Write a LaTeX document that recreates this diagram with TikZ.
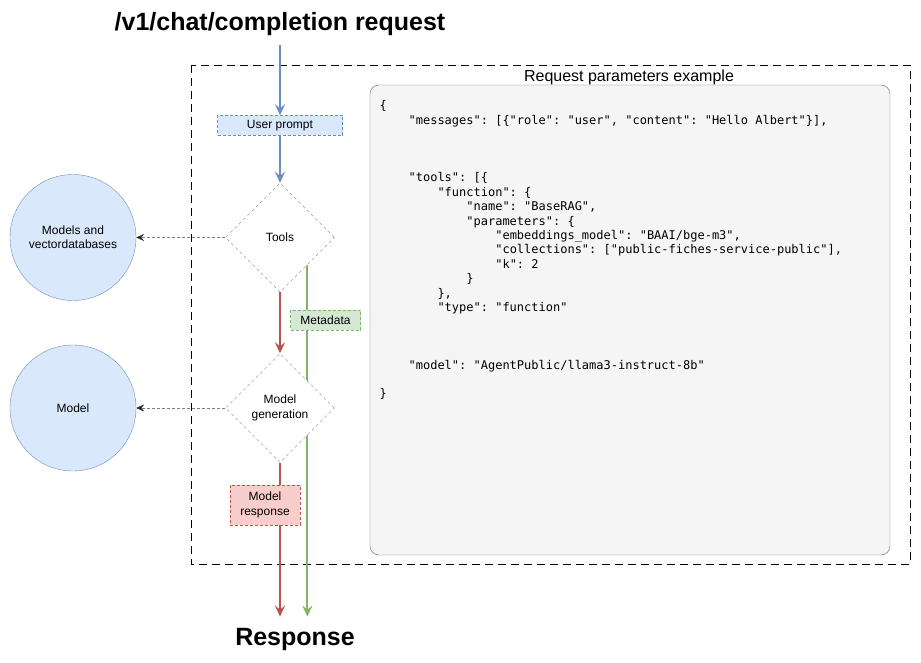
\documentclass[tikz,border=0pt]{standalone}
\usepackage{fontspec}
\setmainfont{Liberation Sans}
\newfontfamily\codefont{DejaVu Sans Mono}
\usetikzlibrary{shapes.geometric,arrows.meta,backgrounds}
\definecolor{blueline}{HTML}{6C8EBF}
\definecolor{bluefill}{HTML}{DAE8FC}
\definecolor{greenline}{HTML}{82B366}
\definecolor{greenfill}{HTML}{D5E8D4}
\definecolor{redline}{HTML}{B85450}
\definecolor{redfill}{HTML}{F8CECC}
\definecolor{codefill}{HTML}{F5F5F5}
\definecolor{codeline}{HTML}{666666}
\newcommand{\ind}[1]{\hspace*{#1\dimexpr28.9pt\relax}}
\begin{document}
\begin{tikzpicture}[x=1pt, y=-1pt, font=\fontsize{12}{14.4}\selectfont, line join=round, >={Stealth[length=11pt,width=10pt,inset=4pt]}]
\tikzset{
  tag/.style={draw, dash pattern=on 3pt off 2pt, inner sep=2pt, align=center},
  check/.style={diamond, draw=gray, fill=white, dash pattern=on 3pt off 3pt, minimum width=109pt, minimum height=109pt, inner sep=0pt, align=center},
  service/.style={circle, draw=blueline, fill=bluefill, minimum size=126pt, inner sep=0pt, align=center},
  flow/.style={->, line width=2pt, draw=#1},
  call/.style={-{Stealth[length=8pt,width=7pt,inset=3pt,color=black!85]}, draw=gray, dash pattern=on 3pt off 2pt},
  heading/.style={font=\bfseries\fontsize{25}{30}\selectfont, inner sep=0pt},
  code/.style={font=\codefont\fontsize{12}{14.4}\selectfont\frenchspacing, align=left, inner sep=0pt}
}
\useasboundingbox (0,0) rectangle (921,663);
% titles
\node[heading] (title) at (280,24) {/v1/chat/completion request};
\node[heading] (resp) at (295,639) {Response};
% flow
\node[tag, draw=blueline, fill=bluefill, minimum width=125pt, minimum height=20pt] (prompt) at (280,125.5) {User prompt};
\node[check] (tools) at (280,237.5) {Tools};
\node[tag, draw=greenline, fill=greenfill, minimum width=70pt, minimum height=20pt] (meta) at (325.5,320) {Metadata};
\node[check] (mgen) at (280,408) {Model\\generation};
\node[tag, draw=redline, fill=redfill, minimum width=70pt, minimum height=40pt] (answer) at (265,505) {Model\\response};
\node[service] (store) at (73,237.5) {Models and\\vectordatabases};
\node[service] (llm) at (73,408) {Model};
% request parameters
\node[font=\fontsize{16}{19}\selectfont, anchor=base] (caption) at (629,81.7) {Request parameters example};
\node[code, anchor=north west] (params) at (379.5,100.5) {%
\{\\
\ind1"messages": [\{"role": "user", "content": "Hello Albert"\}],\\
{}\\
{}\\
{}\\
\ind1"tools": [\{\\
\ind2"function": \{\\
\ind3"name": "BaseRAG",\\
\ind3"parameters": \{\\
\ind4"embeddings\_model": "BAAI/bge-m3",\\
\ind4"collections": ["public-fiches-service-public"],\\
\ind4"k": 2\\
\ind3\}\\
\ind2\},\\
\ind2"type": "function"\\
{}\\
{}\\
{}\\
\ind1"model": "AgentPublic/llama3-instruct-8b"\\
{}\\
\}};
\begin{scope}[on background layer]
\draw[dash pattern=on 8pt off 5pt] (191,65) rectangle (910,564);
\draw[draw=codeline, fill=codefill, rounded corners=9pt] (370,85) rectangle (890,555);
\draw[flow=blueline, shorten <=9pt] (title) -- (prompt);
\draw[flow=blueline] (prompt) -- (tools);
\draw[flow=redline] (tools) -- (mgen);
\draw[flow=redline, shorten >=11pt] (mgen) -- (mgen |- resp.north);
\draw[flow=greenline, shorten >=11pt] (tools.south east) -- (tools.south east |- resp.north);
\draw[call] (tools) -- (store);
\draw[call] (mgen) -- (llm);
\end{scope}
\end{tikzpicture}
\end{document}
